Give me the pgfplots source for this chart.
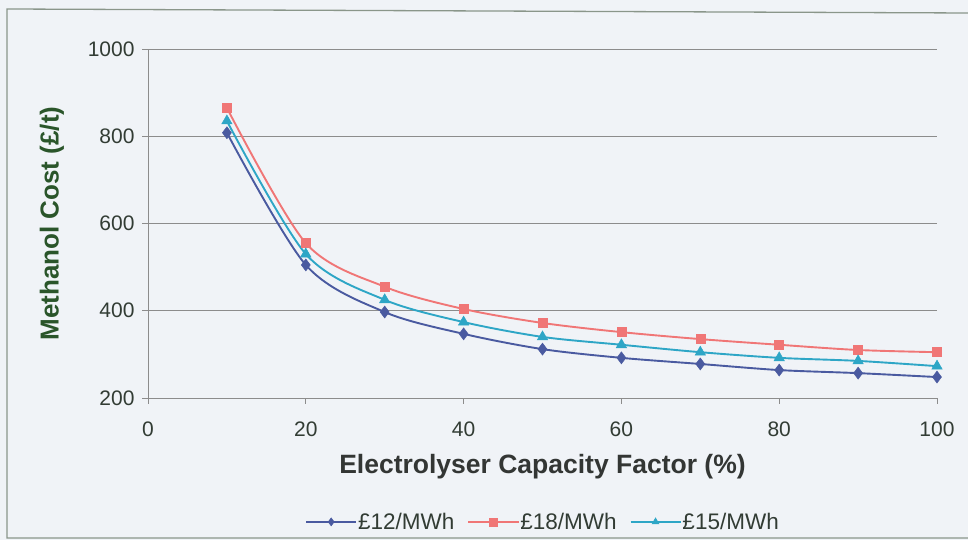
\documentclass[border=0pt]{standalone}
\usepackage{fontspec}
\setmainfont{Liberation Sans}
\usepackage{pgfplots}
\pgfplotsset{compat=1.18}
\definecolor{bg}{HTML}{F0F3F7}
\definecolor{framecol}{HTML}{8A968A}
\definecolor{ticktext}{HTML}{323C34}
\definecolor{ylab}{HTML}{2A552A}
\definecolor{xlab}{HTML}{333634}
\definecolor{gridc}{HTML}{8C8C8C}
\definecolor{sblue}{HTML}{4A5AA0}
\definecolor{sred}{HTML}{F07676}
\definecolor{scyan}{HTML}{2EA6C6}
\begin{document}
\begin{tikzpicture}
\useasboundingbox (0pt,0pt) rectangle (968pt,540pt);
\fill[bg] (0pt,0pt) rectangle (968pt,540pt);
\draw[framecol, line width=1.3pt] (968pt,527pt) -- (7pt,531pt) -- (7pt,2pt) -- (968pt,2pt);
\begin{axis}[
  at={(148pt,142pt)}, anchor=south west,
  scale only axis, width=789pt, height=349pt,
  xmin=0, xmax=100, ymin=200, ymax=1000,
  xtick={0,20,...,100}, ytick={200,400,...,1000},
  axis x line=bottom, axis y line=left,
  axis line style={-, gridc, line width=0.9pt},
  tick align=outside, major tick length=6pt,
  tick style={gridc, line width=0.9pt},
  ymajorgrids, grid style={gridc, line width=0.9pt},
  /pgf/number format/assume math mode=true,
  /pgf/number format/1000 sep={},
  tick label style={font=\fontsize{21}{21}\selectfont, text=ticktext},
  xticklabel style={yshift=-14pt},
  yticklabel style={xshift=-4pt},
  xlabel={Electrolyser Capacity Factor (\%)},
  ylabel={Methanol Cost (£/t)},
  xlabel style={at={(axis description cs:0.5,-0.198)}, anchor=center, font=\bfseries\fontsize{26.5}{26.5}\selectfont, text=xlab},
  ylabel style={at={(axis description cs:-0.1217,0.5)}, anchor=center, font=\bfseries\fontsize{26}{26}\selectfont, text=ylab},
  legend columns=3,
  legend style={at={(axis description cs:0.5,-0.355)}, anchor=center, draw=none, fill=none,
    font=\fontsize{22.5}{22.5}\selectfont, text=ticktext,
    /tikz/every even column/.append style={column sep=12pt},
    nodes={inner sep=1pt}},
  legend image code/.code={\draw[#1, mark size=4pt, mark repeat=2, mark phase=2] plot coordinates {(0pt,0pt) (25pt,0pt) (50pt,0pt)};},
  every axis plot/.append style={line width=1.9pt, smooth},
  clip=false,
]
\addplot[sblue, mark=diamond*, mark size=6pt, mark options={fill=sblue, draw=sblue, line width=0.5pt}] coordinates {
(10,808) (20,505) (30,397) (40,347) (50,312) (60,292) (70,278) (80,264) (90,257) (100,248)};
\addlegendentry{£12/MWh}
\addplot[sred, mark=square*, mark size=4.5pt, mark options={fill=sred, draw=sred, line width=0.5pt}] coordinates {
(10,865) (20,555) (30,455) (40,404) (50,372) (60,351) (70,335) (80,322) (90,310) (100,305)};
\addlegendentry{£18/MWh}
\addplot[scyan, mark=triangle*, mark size=6pt, mark options={fill=scyan, draw=scyan, line width=0.5pt}] coordinates {
(10,835) (20,530) (30,425) (40,374) (50,340) (60,322) (70,305) (80,292) (90,285) (100,273)};
\addlegendentry{£15/MWh}
\end{axis}
\end{tikzpicture}
\end{document}
